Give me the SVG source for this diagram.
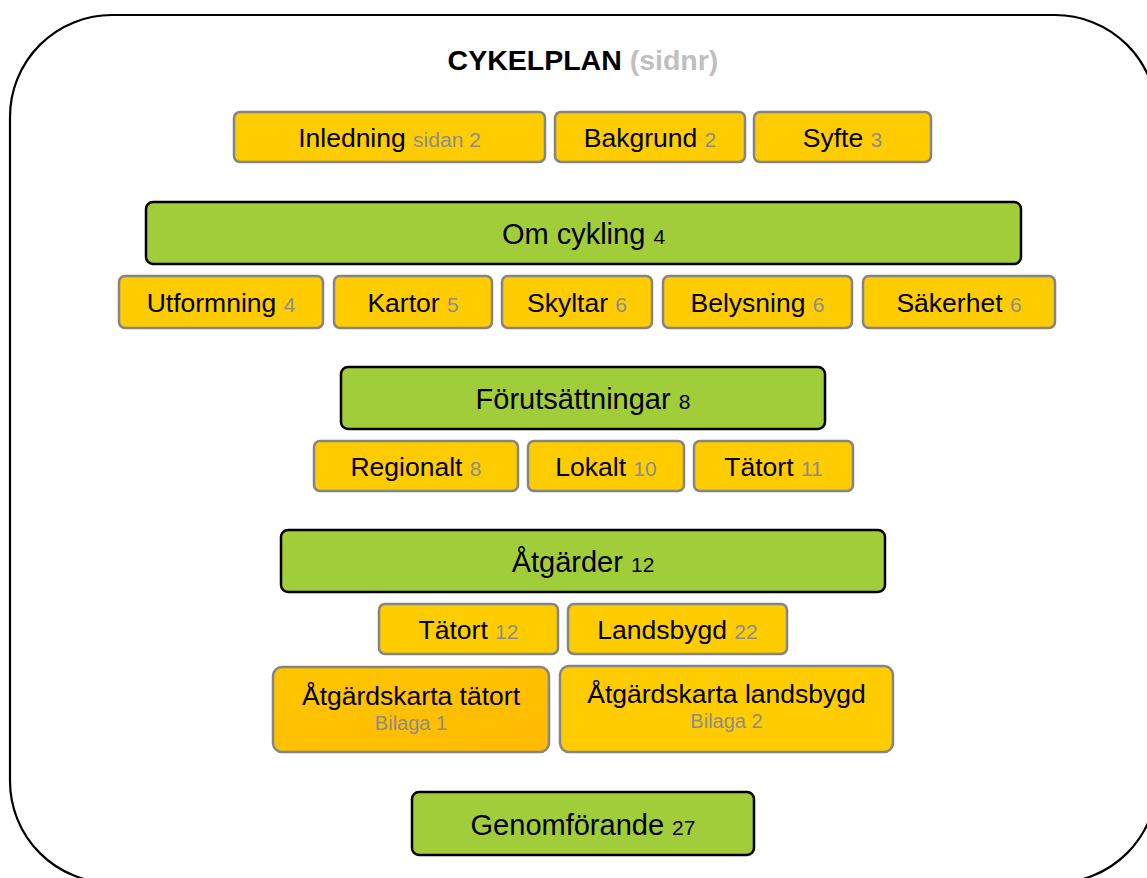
<svg xmlns="http://www.w3.org/2000/svg" width="1147" height="878" viewBox="0 0 1147 878">
<style>
text{font-family:"Liberation Sans",Arial,sans-serif;text-anchor:middle;fill:#000}
.y{fill:#FFCC00;stroke:#858585;stroke-width:2.5}
.y2{fill:url(#og);stroke:#858585;stroke-width:2.5}
.g{fill:#A2CD3A;stroke:#000;stroke-width:2.5}
.ly{font-size:26.5px}
.lg{font-size:29px}
.n{font-size:21px;fill:#8C8C8C}
.ng{font-size:21px;fill:#000}
.b{font-size:20px;fill:#8C8C8C}
.t{font-size:28.5px;font-weight:bold}
</style>
<defs>
<linearGradient id="og" x1="0" y1="0" x2="1" y2="1">
<stop offset="0" stop-color="#FFC600"/>
<stop offset="1" stop-color="#FFBA00"/>
</linearGradient>
</defs>
<rect id="frame" x="10" y="15" width="1147" height="868" rx="102" ry="102" fill="#fff" stroke="#000" stroke-width="2.2"/>
<g id="title"><text class="t" x="583" y="70">CYKELPLAN <tspan fill="#BFBFBF">(sidnr)</tspan></text></g>

<g id="inledning"><rect class="y" x="234" y="112" width="311" height="50" rx="6"/><text class="ly" x="389.5" y="147">Inledning <tspan class="n">sidan 2</tspan></text></g>
<g id="bakgrund"><rect class="y" x="555" y="112" width="190" height="50" rx="6"/><text class="ly" x="650" y="147">Bakgrund <tspan class="n">2</tspan></text></g>
<g id="syfte"><rect class="y" x="754" y="112" width="177" height="50" rx="6"/><text class="ly" x="842.5" y="147">Syfte <tspan class="n">3</tspan></text></g>

<g id="omcykling"><rect class="g" x="146" y="202" width="875" height="62" rx="7"/><text class="lg" x="583.5" y="244">Om cykling <tspan class="ng">4</tspan></text></g>

<g id="utformning"><rect class="y" x="119" y="276" width="204" height="52" rx="6"/><text class="ly" x="221" y="312">Utformning <tspan class="n">4</tspan></text></g>
<g id="kartor"><rect class="y" x="334" y="276" width="158" height="52" rx="6"/><text class="ly" x="413" y="312">Kartor <tspan class="n">5</tspan></text></g>
<g id="skyltar"><rect class="y" x="502" y="276" width="150" height="52" rx="6"/><text class="ly" x="577" y="312">Skyltar <tspan class="n">6</tspan></text></g>
<g id="belysning"><rect class="y" x="663" y="276" width="189" height="52" rx="6"/><text class="ly" x="757.5" y="312">Belysning <tspan class="n">6</tspan></text></g>
<g id="sakerhet"><rect class="y" x="863" y="276" width="192" height="52" rx="6"/><text class="ly" x="959" y="312">Säkerhet <tspan class="n">6</tspan></text></g>

<g id="forutsattningar"><rect class="g" x="341" y="367" width="484" height="62" rx="7"/><text class="lg" x="583" y="409">Förutsättningar <tspan class="ng">8</tspan></text></g>

<g id="regionalt"><rect class="y" x="314" y="441" width="204" height="50" rx="6"/><text class="ly" x="416" y="476">Regionalt <tspan class="n">8</tspan></text></g>
<g id="lokalt"><rect class="y" x="528" y="441" width="156" height="50" rx="6"/><text class="ly" x="606" y="476">Lokalt <tspan class="n">10</tspan></text></g>
<g id="tatort1"><rect class="y" x="694" y="441" width="159" height="50" rx="6"/><text class="ly" x="773.5" y="476">Tätort <tspan class="n">11</tspan></text></g>

<g id="atgarder"><rect class="g" x="281" y="530" width="604" height="62" rx="7"/><text class="lg" x="583" y="571.5">Åtgärder <tspan class="ng">12</tspan></text></g>

<g id="tatort2"><rect class="y" x="379" y="604" width="179" height="50" rx="6"/><text class="ly" x="468.5" y="639">Tätort <tspan class="n">12</tspan></text></g>
<g id="landsbygd"><rect class="y" x="568" y="604" width="219" height="50" rx="6"/><text class="ly" x="677.5" y="639">Landsbygd <tspan class="n">22</tspan></text></g>

<g id="karta-tatort"><rect class="y2" x="273" y="667" width="276" height="85" rx="9"/><text class="ly" x="411" y="705">Åtgärdskarta tätort</text><text class="b" x="411" y="730">Bilaga 1</text></g>
<g id="karta-landsbygd"><rect class="y" x="560" y="666" width="333" height="86" rx="9"/><text class="ly" x="726.5" y="703">Åtgärdskarta landsbygd</text><text class="b" x="726.5" y="728">Bilaga 2</text></g>

<g id="genomforande"><rect class="g" x="412" y="792" width="342" height="63" rx="7"/><text class="lg" x="583" y="834.5">Genomförande <tspan class="ng">27</tspan></text></g>

<g id="connectors"/>
</svg>
